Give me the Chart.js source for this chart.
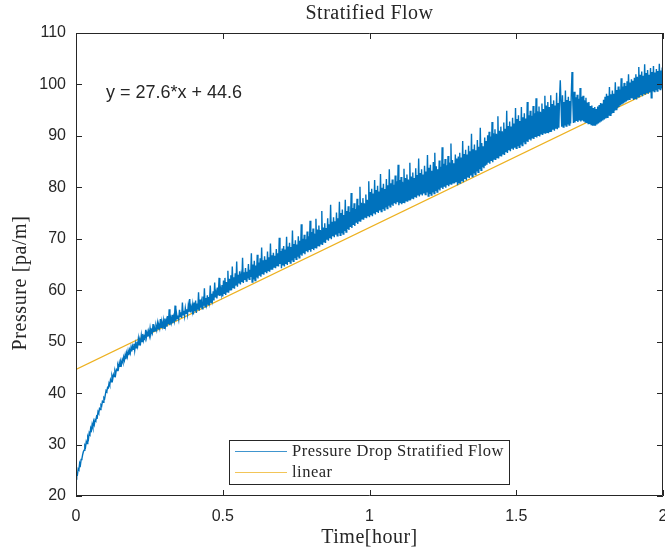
<!DOCTYPE html>
<html>
<head>
<meta charset="utf-8">
<script src="https://cdn.jsdelivr.net/npm/chart.js@4.4.0/dist/chart.umd.min.js"></script>
<style>
  html, body { margin: 0; padding: 0; background: #fff; }
  #wrap { width: 665px; height: 551px; }
</style>
</head>
<body>
<div id="wrap"><canvas id="flowChart" width="665" height="551"></canvas></div>
<script>
const timeStep = 0.0025;
const pressure = [
  // 0.0 - 0.1
  23.3, 24.4, 24.2, 25.3, 25.1, 26.4, 26.0, 27.1, 27.2, 28.0, 28.6, 28.9, 29.8, 29.5, 30.6, 30.2, 31.5, 31.1, 32.3, 32.0,
  33.2, 32.8, 33.9, 33.3, 34.5, 33.9, 34.8, 34.6, 35.5, 35.3, 36.4, 36.1, 37.0, 36.8, 37.7, 37.5, 38.4, 38.2, 39.1, 38.9,
  // 0.1 - 0.2
  39.7, 40.5, 40.3, 41.1, 41.0, 41.9, 41.5, 42.6, 42.2, 43.3, 42.7, 43.6, 43.2, 44.2, 43.6, 44.6, 44.4, 45.4, 44.9, 45.9,
  45.2, 46.1, 45.6, 46.5, 46.0, 47.0, 46.4, 47.4, 46.6, 47.8, 47.1, 48.2, 47.4, 48.4, 47.8, 48.9, 48.1, 49.1, 48.5, 49.6,
  // 0.2 - 0.3
  48.3, 49.6, 48.8, 50.0, 49.2, 50.6, 49.4, 50.3, 49.8, 51.2, 50.0, 51.5, 50.3, 51.0, 50.6, 52.3, 50.9, 51.8, 51.0, 52.0,
  51.2, 52.6, 51.5, 52.2, 51.7, 53.4, 51.9, 52.7, 52.1, 53.0, 52.3, 53.6, 52.5, 53.2, 52.6, 54.4, 52.8, 53.7, 53.0, 54.1,
  // 0.3 - 0.4
  52.6, 54.5, 53.1, 54.1, 52.9, 55.0, 53.4, 56.3, 53.2, 54.6, 53.8, 55.2, 53.6, 54.8, 54.1, 57.0, 54.0, 55.5, 54.5, 55.1,
  54.3, 56.2, 54.9, 55.7, 54.6, 57.6, 55.2, 56.0, 55.0, 56.5, 55.5, 56.3, 55.3, 57.0, 55.8, 58.3, 55.7, 56.8, 56.1, 57.2,
  // 0.4 - 0.5
  55.3, 57.6, 55.9, 58.0, 55.6, 57.4, 56.2, 59.6, 56.0, 58.2, 56.6, 57.8, 56.4, 58.8, 57.0, 60.4, 56.8, 58.5, 57.4, 59.0,
  57.2, 58.7, 57.8, 60.9, 57.6, 59.3, 58.2, 59.8, 58.0, 61.5, 58.6, 59.6, 58.4, 60.5, 59.0, 62.4, 58.9, 60.3, 59.3, 61.0,
  // 0.5 - 0.6
  58.8, 61.9, 59.4, 62.4, 59.1, 61.6, 59.7, 63.8, 59.5, 62.2, 60.1, 62.9, 60.0, 64.6, 60.5, 62.5, 60.3, 63.3, 60.9, 65.6,
  60.7, 63.0, 61.3, 63.7, 61.1, 62.8, 61.6, 66.3, 61.4, 63.5, 62.0, 64.3, 61.8, 63.6, 62.3, 65.1, 62.1, 64.0, 62.6, 67.2,
  // 0.6 - 0.7
  61.6, 65.0, 62.1, 65.7, 61.9, 64.8, 62.5, 66.9, 62.3, 65.4, 62.8, 66.2, 62.6, 68.3, 63.1, 65.8, 63.0, 66.6, 63.5, 65.9,
  63.3, 67.5, 63.8, 66.4, 63.6, 69.1, 64.1, 66.8, 64.0, 67.3, 64.5, 66.7, 64.3, 68.0, 64.8, 67.2, 64.6, 70.2, 65.1, 67.6,
  // 0.7 - 0.8
  64.3, 68.1, 64.8, 68.6, 64.6, 67.9, 65.1, 70.4, 64.9, 68.5, 65.5, 69.2, 65.3, 68.4, 65.8, 71.6, 65.6, 69.0, 66.2, 69.7,
  66.0, 68.9, 66.5, 70.5, 66.3, 69.6, 66.9, 72.8, 66.7, 70.0, 67.2, 70.8, 67.0, 69.9, 67.6, 71.4, 67.4, 70.5, 67.8, 73.5,
  // 0.8 - 0.9
  67.5, 71.3, 68.0, 72.0, 67.8, 71.0, 68.3, 73.9, 68.1, 71.8, 68.7, 72.6, 68.5, 71.7, 69.0, 75.4, 68.8, 72.2, 69.4, 73.0,
  69.2, 72.1, 69.8, 74.0, 69.6, 72.8, 70.1, 76.6, 69.9, 73.3, 70.5, 74.2, 70.3, 73.4, 70.8, 75.1, 70.6, 74.0, 71.1, 77.2,
  // 0.9 - 1.0
  70.7, 75.0, 71.1, 75.7, 70.9, 74.6, 71.5, 77.6, 71.3, 75.4, 71.9, 76.3, 71.7, 75.2, 72.3, 78.9, 72.1, 76.0, 72.7, 76.9,
  72.5, 75.8, 73.1, 77.8, 72.9, 76.5, 73.5, 80.1, 73.3, 77.0, 73.9, 77.9, 73.7, 76.9, 74.2, 78.6, 74.0, 77.6, 74.5, 81.2,
  // 1.0 - 1.1
  74.2, 79.1, 74.6, 79.7, 74.4, 78.8, 74.9, 81.4, 74.7, 79.5, 75.2, 80.3, 75.0, 79.2, 75.5, 82.6, 75.3, 79.9, 75.8, 80.7,
  75.6, 79.7, 76.1, 81.6, 75.9, 80.4, 76.4, 83.5, 76.2, 80.8, 76.6, 81.5, 76.4, 80.5, 76.9, 82.3, 76.7, 81.2, 77.1, 84.4,
  // 1.1 - 1.2
  76.5, 81.4, 76.9, 82.0, 76.7, 81.1, 77.1, 83.6, 76.9, 81.8, 77.4, 82.5, 77.2, 81.5, 77.6, 84.8, 77.5, 82.1, 77.9, 82.9,
  77.7, 81.8, 78.1, 83.7, 78.0, 82.4, 78.4, 85.6, 78.2, 82.8, 78.6, 83.5, 78.4, 82.5, 78.8, 84.2, 78.6, 83.1, 79.0, 86.3,
  // 1.2 - 1.3
  78.3, 83.8, 78.7, 84.4, 78.5, 83.2, 79.0, 84.9, 78.8, 86.7, 79.3, 84.1, 79.1, 83.5, 79.6, 85.2, 79.4, 84.0, 79.9, 87.8,
  79.7, 84.6, 80.1, 85.5, 79.9, 84.3, 80.4, 86.1, 80.2, 84.8, 80.7, 88.5, 80.5, 85.3, 80.9, 84.7, 80.8, 86.4, 81.1, 85.6,
  // 1.3 - 1.4
  80.4, 86.0, 80.9, 86.7, 80.7, 85.8, 81.2, 89.0, 81.0, 86.5, 81.6, 87.3, 81.4, 86.4, 81.9, 88.1, 81.8, 87.0, 82.3, 90.4,
  82.1, 87.4, 82.7, 88.3, 82.5, 87.2, 83.1, 89.2, 82.9, 87.9, 83.5, 91.6, 83.3, 88.6, 83.9, 88.0, 83.7, 89.7, 84.2, 89.0,
  // 1.4 - 1.5
  84.4, 90.1, 84.8, 90.8, 84.6, 89.9, 85.1, 92.7, 84.9, 90.5, 85.5, 91.3, 85.3, 90.4, 85.8, 93.8, 85.6, 91.0, 86.2, 91.8,
  86.0, 90.9, 86.5, 92.6, 86.3, 91.4, 86.8, 94.9, 86.7, 91.9, 87.2, 92.8, 87.0, 91.8, 87.5, 93.5, 87.3, 92.4, 87.7, 95.4,
  // 1.5 - 1.6
  87.6, 93.3, 88.0, 94.0, 87.8, 92.9, 88.3, 95.6, 88.1, 93.6, 88.7, 94.4, 88.5, 93.4, 88.9, 96.6, 88.8, 94.0, 89.3, 94.9,
  89.1, 93.9, 89.5, 95.8, 89.4, 94.4, 89.8, 97.3, 89.7, 94.8, 90.1, 95.7, 89.9, 94.7, 90.4, 96.3, 90.2, 95.2, 90.6, 97.8,
  // 1.6 - 1.7
  90.4, 95.9, 90.7, 96.6, 90.5, 95.6, 90.9, 97.9, 90.8, 96.2, 91.2, 96.9, 91.0, 95.9, 91.4, 98.4, 91.3, 96.4, 91.6, 97.2,
  100.8, 96.3, 91.8, 97.9, 91.7, 96.6, 92.0, 98.8, 91.9, 97.0, 92.2, 97.6, 92.1, 96.8, 92.4, 98.1, 102.4, 97.1, 92.5, 98.6,
  // 1.7 - 1.8
  92.6, 97.5, 92.9, 98.0, 92.7, 97.2, 93.0, 99.3, 92.8, 97.6, 93.0, 97.8, 92.8, 96.9, 92.7, 97.4, 92.5, 96.5, 92.4, 96.6,
  92.3, 95.8, 92.2, 95.9, 92.0, 95.4, 92.1, 95.6, 92.0, 95.2, 92.2, 95.7, 92.4, 96.0, 92.6, 96.4, 92.8, 96.3, 93.0, 97.0,
  // 1.8 - 1.9
  93.2, 97.6, 93.4, 98.2, 93.6, 97.8, 93.9, 99.5, 94.0, 98.1, 94.3, 98.8, 94.6, 98.2, 94.9, 100.4, 95.1, 98.9, 95.4, 99.6,
  95.6, 99.0, 95.9, 101.2, 96.1, 99.6, 96.3, 100.3, 96.5, 99.7, 96.7, 100.6, 96.9, 102.0, 97.1, 100.4, 97.3, 101.0, 97.4, 100.7,
  // 1.9 - 2.0
  97.0, 101.3, 97.3, 102.0, 97.1, 101.5, 97.6, 103.4, 97.5, 101.9, 97.9, 102.5, 97.7, 101.7, 98.1, 103.9, 98.0, 102.2, 98.3, 102.8,
  98.2, 101.9, 98.5, 103.2, 97.4, 102.4, 98.7, 103.6, 98.6, 102.3, 98.9, 103.0, 98.7, 102.6, 99.1, 104.0, 99.0, 102.7, 99.2, 103.3,
  100.6
];

// linear fit y = 27.6*x + 44.6, end points
const fitTime = [0, 2];
const fitPressure = [44.6, 99.8];

const xTicks = [0, 0.5, 1, 1.5, 2];
const xTickLabels = ['0', '0.5', '1', '1.5', '2'];
const yTicks = [20, 30, 40, 50, 60, 70, 80, 90, 100, 110];

const seriesNames = ['Pressure Drop Stratified Flow', 'linear'];
const seriesColors = ['#0072BD', '#EDB120'];

const textColor = '#262626';
const serif = '"Liberation Serif", "DejaVu Serif", serif';
const sans = '"Liberation Sans", Arial, sans-serif';

// matlab style box, inward ticks, labels and legend
const matlabBox = {
  id: 'matlabBox',
  afterDraw(chart) {
    const ctx = chart.ctx;
    const a = chart.chartArea;
    const xs = chart.scales.x, ys = chart.scales.y;
    const tl = 6;
    ctx.save();
    ctx.strokeStyle = textColor;
    ctx.lineWidth = 1;
    ctx.beginPath();
    ctx.rect(a.left + 0.5, a.top + 0.5, a.right - a.left - 1, a.bottom - a.top - 1);
    xTicks.forEach(v => {
      const px = Math.round(xs.getPixelForValue(v)) + 0.5;
      ctx.moveTo(px, a.bottom); ctx.lineTo(px, a.bottom - tl);
      ctx.moveTo(px, a.top); ctx.lineTo(px, a.top + tl);
    });
    yTicks.forEach(v => {
      const py = Math.round(ys.getPixelForValue(v)) + 0.5;
      ctx.moveTo(a.left, py); ctx.lineTo(a.left + tl, py);
      ctx.moveTo(a.right, py); ctx.lineTo(a.right - tl, py);
    });
    ctx.stroke();

    ctx.fillStyle = textColor;
    ctx.textAlign = 'center';
    ctx.textBaseline = 'middle';
    ctx.letterSpacing = '0.5px';
    ctx.font = '20px ' + serif;
    ctx.fillText('Stratified Flow', (a.left + a.right) / 2, 14);
    ctx.fillText('Time[hour]', (a.left + a.right) / 2, 538);
    ctx.save();
    ctx.translate(21, 283);
    ctx.rotate(-Math.PI / 2);
    ctx.letterSpacing = '0.6px';
    ctx.fillText('Pressure [pa/m]', 0, 0);
    ctx.restore();

    // equation annotation
    ctx.letterSpacing = '0px';
    ctx.textAlign = 'left';
    ctx.font = '18px ' + sans;
    ctx.fillText('y = 27.6*x + 44.6', xs.getPixelForValue(0.102), ys.getPixelForValue(98.3));

    // legend box
    const bx = Math.round(xs.getPixelForValue(0.521)), by = Math.round(ys.getPixelForValue(30.9));
    const bw = 280, bh = 44;
    ctx.fillStyle = '#fff';
    ctx.fillRect(bx, by, bw, bh);
    ctx.strokeStyle = textColor;
    ctx.strokeRect(bx + 0.5, by + 0.5, bw, bh);
    ctx.font = '16.5px ' + serif;
    ctx.letterSpacing = '0.5px';
    seriesNames.forEach((name, i) => {
      const ly = by + 11.5 + i * 21;
      ctx.strokeStyle = seriesColors[i];
      ctx.globalAlpha = 0.75;
      ctx.beginPath();
      ctx.moveTo(bx + 6, ly); ctx.lineTo(bx + 58, ly);
      ctx.stroke();
      ctx.globalAlpha = 1;
      ctx.fillStyle = textColor;
      ctx.fillText(name, bx + 63, ly);
    });
    ctx.restore();
  }
};

const ctx = document.getElementById('flowChart').getContext('2d');

new Chart(ctx, {
  type: 'line',
  data: {
    datasets: [
      {
        label: seriesNames[0],
        data: pressure.map((p, i) => ({ x: i * timeStep, y: p })),
        borderColor: seriesColors[0],
        borderWidth: 1.4,
        pointRadius: 0,
        tension: 0
      },
      {
        label: seriesNames[1],
        data: fitTime.map((t, i) => ({ x: t, y: fitPressure[i] })),
        borderColor: seriesColors[1],
        borderWidth: 1.2,
        pointRadius: 0,
        tension: 0
      }
    ]
  },
  options: {
    responsive: false,
    animation: false,
    layout: { padding: { left: 0, right: 2, top: 33, bottom: 0 } },
    plugins: {
      legend: { display: false },
      title: { display: false },
      tooltip: { enabled: false }
    },
    scales: {
      x: {
        type: 'linear',
        min: 0,
        max: 2,
        afterBuildTicks: s => { s.ticks = xTicks.map(v => ({ value: v })); },
        afterFit: s => { s.height = 55; s.paddingLeft = 0; s.paddingRight = 0; },
        grid: { display: false, drawTicks: false },
        border: { display: false },
        ticks: {
          padding: 11,
          color: textColor,
          font: { family: sans, size: 16 },
          maxRotation: 0,
          callback: (v) => xTickLabels[xTicks.indexOf(v)]
        }
      },
      y: {
        min: 20,
        max: 110,
        afterBuildTicks: s => { s.ticks = yTicks.map(v => ({ value: v })); },
        afterFit: s => { s.width = 76; s.paddingTop = 0; s.paddingBottom = 0; },
        grid: { display: false, drawTicks: false },
        border: { display: false },
        ticks: {
          padding: 10,
          color: textColor,
          font: { family: sans, size: 16 }
        }
      }
    }
  },
  plugins: [matlabBox]
});
</script>
</body>
</html>
